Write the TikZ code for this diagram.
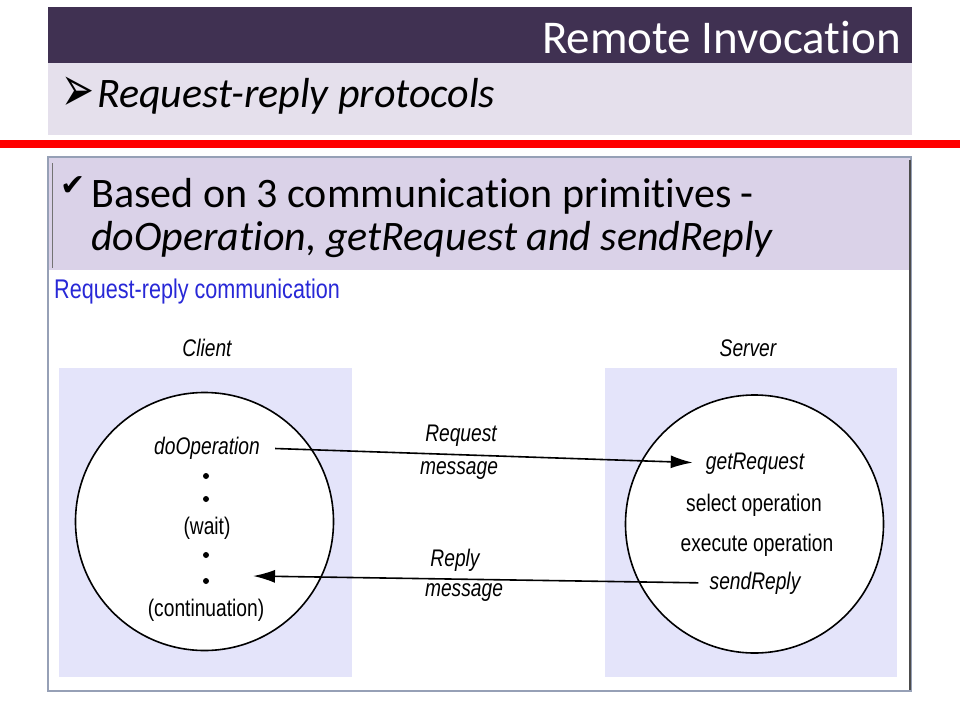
\documentclass[tikz,border=0pt]{standalone}
\usepackage{fontspec}
\setmainfont{Carlito}[Ligatures=NoCommon]
\newfontfamily\figfont[FakeStretch=0.8]{Liberation Sans}
\newfontfamily\symfont{DejaVu Sans}
\usetikzlibrary{arrows.meta}
\definecolor{titlebar}{RGB}{64,49,82}
\definecolor{subband}{RGB}{229,224,236}
\definecolor{boxtop}{RGB}{218,210,232}
\definecolor{boxline}{RGB}{150,160,182}
\definecolor{panelblue}{RGB}{228,228,250}
\definecolor{figblue}{RGB}{40,40,215}

\begin{document}
\begin{tikzpicture}[x=1pt,y=-1pt,
  fig/.style={font=\figfont\fontsize{24}{28}\selectfont,text height=17pt,text depth=5pt,inner sep=0pt},
  figit/.style={fig,font=\figfont\itshape\fontsize{24}{28}\selectfont},
  proc/.style={draw,circle,line width=1.6pt,fill=white,minimum size=258pt,inner sep=0pt},
  dot/.style={circle,fill,inner sep=0pt,minimum size=6pt},
  msg/.style={line width=1.6pt,-{Latex[length=22pt,width=13pt]}}]
\useasboundingbox (0,0) rectangle (960,720);
% slide heading
\fill[titlebar] (48,7) rectangle (912,63);
\fill[subband] (48,63) rectangle (912,135);
\node[anchor=base east,text=white,font=\fontsize{47}{56}\selectfont,inner sep=0pt] (title)at(901,53){Remote Invocation};
\node[anchor=base west,font=\symfont\fontsize{48}{52}\selectfont,inner sep=0pt] (arrowbullet)at(61,111){\scalebox{0.82}[1.35]{➢}};
\node[anchor=base west,font=\itshape\fontsize{42}{48}\selectfont,inner sep=0pt] (topic)at(97,107){Request-reply protocols};
\fill[red] (0,140) rectangle (960,148);
% content box
\fill[boxtop] (48,157) rectangle (911,270);
\fill[white] (50,270) rectangle (909,690);
\draw[boxline,line width=1.2pt] (48,157) rectangle (911,691);
\draw[black!55,line width=1pt] (52,163) -- (52,268);
\draw[black!70,line width=1.6pt] (910,160) -- (910,690);
\node[anchor=base west,font=\symfont\fontsize{30}{34}\selectfont,inner sep=0pt] (check)at(60,195){✔};
\node[anchor=base west,font=\fontsize{42}{48}\selectfont,inner sep=0pt] (point)at(91,207){Based on 3 communication primitives -};
\node[anchor=base west,font=\itshape\fontsize{42}{48}\selectfont,inner sep=0pt] (primitives)at(91,250){doOperation, getRequest and sendReply};
% the figure
\node[anchor=base west,text=figblue,font=\figfont\fontsize{27}{31}\selectfont,inner sep=0pt] (figtitle)at(54,298){Request-reply communication};
\fill[panelblue] (59,368) rectangle (352,677);
\fill[panelblue] (605,368) rectangle (897,677);
\node[figit] (clientlbl)at(207,350){Client};
\node[figit] (serverlbl)at(748,350){Server};
\node[proc] (client)at(204.5,521.5){};
\node[proc] (server)at(754.5,524){};
% client side
\node[figit] (doop)at(207,448){doOperation};
\node[dot] (d1)at(206,476){};
\node[dot] (d2)at(206,499){};
\node[fig] (wait)at(207,528){(wait)};
\node[dot] (d3)at(206,555){};
\node[dot] (d4)at(206,581){};
\node[fig] (cont)at(206,610){(continuation)};
% server side
\node[figit] (getreq)at(755,463){getRequest};
\node[fig] (select)at(754,505){select operation};
\node[fig] (execute)at(757,545){execute operation};
\node[figit] (sendrep)at(755,583){sendReply};
% messages
\coordinate (replyend)at(253,576);
\draw[msg,shorten <=15pt,shorten >=13pt] (doop.east) -- (getreq.west);
\draw[msg,shorten <=11pt] (sendrep.west) -- (replyend);
\node[figit] (reqlbl)at(461,435){Request};
\node[figit] (reqmsg)at(459,468){message};
\node[figit] (replbl)at(455,560){Reply};
\node[figit] (repmsg)at(464,590){message};
\end{tikzpicture}
\end{document}
